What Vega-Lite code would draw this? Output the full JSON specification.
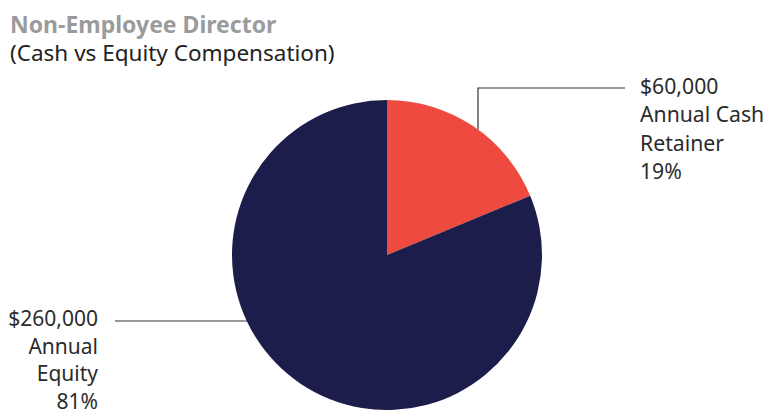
{
  "$schema": "https://vega.github.io/schema/vega-lite/v6.json",
  "width": 757,
  "height": 341,
  "autosize": "none",
  "padding": {"left": 10, "top": 70, "right": 0, "bottom": 0},
  "background": "white",
  "config": {"view": {"stroke": null}, "font": "Noto Sans"},
  "title": {
    "text": "Non-Employee Director",
    "subtitle": "(Cash vs Equity Compensation)",
    "anchor": "start",
    "frame": "group",
    "font": "Noto Sans",
    "fontSize": 23,
    "fontWeight": "bold",
    "color": "#9b9b9b",
    "subtitleFont": "Noto Sans",
    "subtitleFontSize": 22.5,
    "subtitleFontWeight": "normal",
    "subtitleColor": "#222222",
    "subtitlePadding": 5,
    "offset": 5
  },
  "datasets": {
    "slices": [
      {"category": "Annual Cash Retainer", "amount": 60000, "rank": 1},
      {"category": "Annual Equity", "amount": 260000, "rank": 2}
    ],
    "leaders": [
      {"group": "cash", "step": 1, "px": 91, "py": 125.5},
      {"group": "cash", "step": 2, "px": 91, "py": 167},
      {"group": "cash", "step": 3, "px": 238, "py": 167},
      {"group": "equity", "step": 1, "px": -272, "py": -66},
      {"group": "equity", "step": 2, "px": -140, "py": -66}
    ],
    "labels": [
      {"side": "right", "px": 253, "py": 167, "text": ["$60,000", "Annual Cash", "Retainer", "19%"]},
      {"side": "left", "px": -289, "py": -65, "text": ["$260,000", "Annual", "Equity", "81%"]}
    ]
  },
  "layer": [
    {
      "data": {"name": "slices"},
      "mark": {"type": "arc", "outerRadius": 155},
      "encoding": {
        "x": {"datum": 0, "type": "quantitative", "scale": {"domain": [-377, 380]}, "axis": null},
        "y": {"datum": 0, "type": "quantitative", "scale": {"domain": [-156, 185]}, "axis": null},
        "theta": {"field": "amount", "type": "quantitative", "stack": true},
        "order": {"field": "rank", "type": "quantitative"},
        "color": {
          "field": "category",
          "type": "nominal",
          "scale": {"domain": ["Annual Cash Retainer", "Annual Equity"], "range": ["#EF4A3F", "#1C1D4B"]},
          "legend": null
        }
      }
    },
    {
      "data": {"name": "leaders"},
      "mark": {"type": "line", "color": "#333333", "strokeWidth": 1.2},
      "encoding": {
        "x": {"field": "px", "type": "quantitative", "scale": {"domain": [-377, 380]}, "axis": null},
        "y": {"field": "py", "type": "quantitative", "scale": {"domain": [-156, 185]}, "axis": null},
        "detail": {"field": "group"},
        "order": {"field": "step", "type": "quantitative"}
      }
    },
    {
      "data": {"name": "labels"},
      "transform": [{"filter": "datum.side === 'right'"}],
      "mark": {"type": "text", "align": "left", "baseline": "middle", "fontSize": 21.2, "lineHeight": 28.3, "color": "#2b2b2b", "font": "Noto Sans"},
      "encoding": {
        "x": {"field": "px", "type": "quantitative", "scale": {"domain": [-377, 380]}, "axis": null},
        "y": {"field": "py", "type": "quantitative", "scale": {"domain": [-156, 185]}, "axis": null},
        "text": {"field": "text"}
      }
    },
    {
      "data": {"name": "labels"},
      "transform": [{"filter": "datum.side === 'left'"}],
      "mark": {"type": "text", "align": "right", "baseline": "middle", "fontSize": 21, "lineHeight": 27.5, "color": "#2b2b2b", "font": "Noto Sans"},
      "encoding": {
        "x": {"field": "px", "type": "quantitative", "scale": {"domain": [-377, 380]}, "axis": null},
        "y": {"field": "py", "type": "quantitative", "scale": {"domain": [-156, 185]}, "axis": null},
        "text": {"field": "text"}
      }
    }
  ]
}
